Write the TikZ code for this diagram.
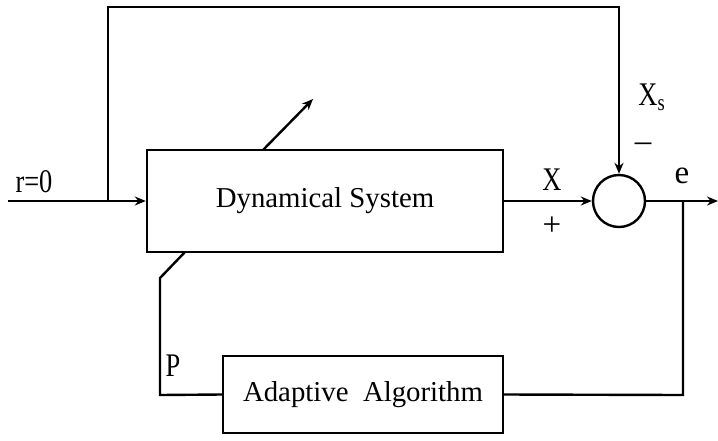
\documentclass[tikz,border=0pt]{standalone}
\usepackage{fontspec}
\setmainfont{Liberation Serif}
\usetikzlibrary{arrows.meta,positioning}
\newcommand{\cond}[1]{\scalebox{0.8}[1]{#1}}
\tikzset{
  blockbox/.style={draw, line width=1.2pt, inner sep=0pt, font=\fontsize{14.4}{17}\selectfont},
  sumnode/.style={draw, circle, line width=1.2pt, minimum size=26pt, inner sep=0pt},
  sig/.style={line width=1.2pt},
  sigarrow/.style={sig, -{Stealth[length=5.5pt,width=4.5pt]}},
  lbl/.style={font=\fontsize{16.5}{19}\selectfont, inner sep=0pt}
}
\begin{document}
\begin{tikzpicture}[x=0.5pt,y=-0.5pt]
    \useasboundingbox (0,0) rectangle (718,440);

    % Blocks
    \node[blockbox, minimum width=178pt, minimum height=51pt] (dyn) at (325,201) {Dynamical System};
    \node[blockbox, minimum width=140pt, minimum height=38.5pt] (adapt) at (363,394.5) {Adaptive\ \ Algorithm};
    \node[sumnode] (sum) at (619,201) {};

    % Points on the lines
    \coordinate (in) at (8,201);
    \coordinate (split) at (108,201);
    \coordinate (topL) at (108,7);
    \coordinate (topR) at (619,7);
    \coordinate (eout) at (718,201);
    \coordinate (esplit) at (683,201);
    \coordinate (ebot) at (683,395);
    \coordinate (pA) at (185,252);
    \coordinate (pB) at (160,278);
    \coordinate (pC) at (160,395);
    \coordinate (tuneA) at (263,150);
    \coordinate (tuneB) at (313,99);

    % Forward path
    \draw[sigarrow] (in) -- (dyn.west);
    \draw[sigarrow] (dyn.east) -- (sum.west);
    \draw[sigarrow] (sum.east) -- (eout);
    % Reference branch
    \draw[sigarrow] (split) -- (topL) -- (topR) -- (sum.north);
    % Adaptation loop
    \draw[sig] (esplit) -- (ebot) -- (adapt.east);
    \draw[sig] (adapt.west) -- (pC) -- (pB) -- (pA);
    \draw[sigarrow] (tuneA) -- (tuneB);

    % Labels
    \node[lbl] (lr) at (34,182) {\cond{r=0}};
    \node[lbl] (lx) at (552,180) {\cond{X}};
    \node[lbl] (lplus) at (552,226) {+};
    \node[lbl] (lxs) at (652,97) {\cond{X\textsubscript{s}}};
    \node[lbl] (lminus) at (643,147) {--};
    \node[lbl] (le) at (682,176) {e};
    \node[lbl] (lp) at (173,366) {\cond{P}};
\end{tikzpicture}
\end{document}
